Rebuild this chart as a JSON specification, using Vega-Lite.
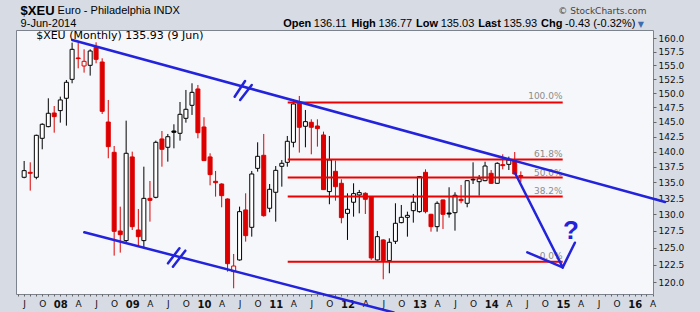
{
  "$schema": "https://vega.github.io/schema/vega-lite/v6.json",
  "width": 637,
  "height": 264,
  "autosize": {"type": "none"},
  "padding": {"left": 16, "top": 30, "right": 47, "bottom": 18},
  "background": "#d7dbe3",
  "config": {"view": {"fill": "#f5f7fb", "stroke": "#7d838c", "strokeWidth": 1}},
  "datasets": {
    "candles": [
      {"date":"2007-07-01","open":135.82,"high":138.46,"low":135.66,"close":136.89},
      {"date":"2007-08-01","open":136.62,"high":138.24,"low":133.70,"close":136.46},
      {"date":"2007-09-01","open":135.82,"high":142.82,"low":135.50,"close":142.71},
      {"date":"2007-10-01","open":142.21,"high":144.75,"low":140.38,"close":144.58},
      {"date":"2007-11-01","open":144.18,"high":149.08,"low":144.07,"close":146.47},
      {"date":"2007-12-01","open":146.52,"high":147.73,"low":143.16,"close":145.89},
      {"date":"2008-01-01","open":146.93,"high":149.37,"low":144.86,"close":148.79},
      {"date":"2008-02-01","open":149.08,"high":152.33,"low":144.35,"close":151.92},
      {"date":"2008-03-01","open":152.45,"high":159.19,"low":151.74,"close":157.94},
      {"date":"2008-04-01","open":156.34,"high":159.19,"low":154.44,"close":156.22},
      {"date":"2008-05-01","open":154.87,"high":157.94,"low":153.66,"close":155.72},
      {"date":"2008-06-01","open":154.99,"high":157.94,"low":153.12,"close":157.63},
      {"date":"2008-07-01","open":158.32,"high":159.25,"low":155.36,"close":156.09},
      {"date":"2008-08-01","open":155.60,"high":156.28,"low":146.35,"close":146.81},
      {"date":"2008-09-01","open":144.97,"high":148.79,"low":138.90,"close":140.82},
      {"date":"2008-10-01","open":139.88,"high":140.93,"low":123.84,"close":127.44},
      {"date":"2008-11-01","open":127.49,"high":131.20,"low":124.28,"close":126.94},
      {"date":"2008-12-01","open":126.05,"high":145.20,"low":125.65,"close":139.72},
      {"date":"2009-01-01","open":139.12,"high":139.99,"low":127.64,"close":128.14},
      {"date":"2009-02-01","open":127.64,"high":130.84,"low":125.25,"close":126.64},
      {"date":"2009-03-01","open":126.05,"high":137.53,"low":124.91,"close":132.49},
      {"date":"2009-04-01","open":132.49,"high":135.23,"low":128.90,"close":132.18},
      {"date":"2009-05-01","open":132.65,"high":141.82,"low":132.49,"close":141.54},
      {"date":"2009-06-01","open":142.10,"high":143.44,"low":137.53,"close":140.38},
      {"date":"2009-07-01","open":140.71,"high":142.94,"low":138.35,"close":142.48},
      {"date":"2009-08-01","open":143.44,"high":144.58,"low":140.54,"close":143.22},
      {"date":"2009-09-01","open":143.05,"high":148.43,"low":141.82,"close":146.29},
      {"date":"2009-10-01","open":145.60,"high":150.55,"low":144.86,"close":147.16},
      {"date":"2009-11-01","open":147.85,"high":151.74,"low":146.18,"close":150.13},
      {"date":"2009-12-01","open":150.73,"high":151.44,"low":142.21,"close":143.16},
      {"date":"2010-01-01","open":144.12,"high":145.78,"low":138.46,"close":138.52},
      {"date":"2010-02-01","open":139.12,"high":139.72,"low":134.54,"close":136.25},
      {"date":"2010-03-01","open":135.18,"high":136.84,"low":132.76,"close":134.96},
      {"date":"2010-04-01","open":134.75,"high":134.86,"low":131.10,"close":132.91},
      {"date":"2010-05-01","open":132.39,"high":132.49,"low":121.52,"close":122.67},
      {"date":"2010-06-01","open":121.52,"high":124.08,"low":119.16,"close":122.33},
      {"date":"2010-07-01","open":123.21,"high":131.20,"low":123.11,"close":130.43},
      {"date":"2010-08-01","open":130.69,"high":133.28,"low":125.90,"close":126.79},
      {"date":"2010-09-01","open":128.04,"high":136.84,"low":126.64,"close":136.35},
      {"date":"2010-10-01","open":137.26,"high":141.54,"low":136.73,"close":139.22},
      {"date":"2010-11-01","open":139.39,"high":142.94,"low":129.66,"close":129.81},
      {"date":"2010-12-01","open":130.95,"high":134.75,"low":130.33,"close":133.91},
      {"date":"2011-01-01","open":133.44,"high":137.64,"low":128.90,"close":136.94},
      {"date":"2011-02-01","open":137.59,"high":138.62,"low":134.33,"close":138.08},
      {"date":"2011-03-01","open":138.24,"high":142.60,"low":137.53,"close":141.71},
      {"date":"2011-04-01","open":141.54,"high":148.90,"low":140.71,"close":148.08},
      {"date":"2011-05-01","open":148.32,"high":149.49,"low":139.83,"close":144.07},
      {"date":"2011-06-01","open":144.24,"high":147.04,"low":140.71,"close":145.03},
      {"date":"2011-07-01","open":144.92,"high":145.43,"low":139.55,"close":144.07},
      {"date":"2011-08-01","open":144.29,"high":145.43,"low":140.82,"close":143.84},
      {"date":"2011-09-01","open":142.77,"high":143.33,"low":133.81,"close":133.86},
      {"date":"2011-10-01","open":133.55,"high":142.60,"low":131.57,"close":138.62},
      {"date":"2011-11-01","open":136.78,"high":138.52,"low":132.13,"close":134.33},
      {"date":"2011-12-01","open":134.86,"high":135.50,"low":128.65,"close":129.51},
      {"date":"2012-01-01","open":130.17,"high":133.28,"low":126.15,"close":130.79},
      {"date":"2012-02-01","open":131.88,"high":134.86,"low":129.66,"close":133.23},
      {"date":"2012-03-01","open":133.02,"high":133.81,"low":130.17,"close":133.39},
      {"date":"2012-04-01","open":133.28,"high":133.44,"low":130.07,"close":132.34},
      {"date":"2012-05-01","open":132.76,"high":132.81,"low":123.21,"close":123.50},
      {"date":"2012-06-01","open":123.21,"high":127.49,"low":123.11,"close":126.64},
      {"date":"2012-07-01","open":126.15,"high":126.25,"low":120.43,"close":123.11},
      {"date":"2012-08-01","open":123.11,"high":126.39,"low":121.29,"close":125.80},
      {"date":"2012-09-01","open":125.95,"high":131.72,"low":125.55,"close":128.65},
      {"date":"2012-10-01","open":128.75,"high":131.46,"low":128.65,"close":129.56},
      {"date":"2012-11-01","open":129.56,"high":130.43,"low":126.64,"close":129.86},
      {"date":"2012-12-01","open":130.58,"high":133.18,"low":128.75,"close":131.88},
      {"date":"2013-01-01","open":130.43,"high":136.03,"low":130.27,"close":135.93},
      {"date":"2013-02-01","open":136.62,"high":137.10,"low":130.17,"close":130.43},
      {"date":"2013-03-01","open":130.02,"high":130.10,"low":127.39,"close":128.14},
      {"date":"2013-04-01","open":128.14,"high":132.03,"low":127.39,"close":131.72},
      {"date":"2013-05-01","open":132.24,"high":132.30,"low":127.79,"close":130.02},
      {"date":"2013-06-01","open":130.22,"high":134.23,"low":129.51,"close":130.07},
      {"date":"2013-07-01","open":130.27,"high":133.44,"low":127.54,"close":132.97},
      {"date":"2013-08-01","open":132.34,"high":134.60,"low":131.72,"close":132.13},
      {"date":"2013-09-01","open":131.72,"high":135.33,"low":131.10,"close":135.28},
      {"date":"2013-10-01","open":135.40,"high":138.24,"low":134.75,"close":135.50},
      {"date":"2013-11-01","open":135.12,"high":136.19,"low":132.91,"close":135.58},
      {"date":"2013-12-01","open":135.28,"high":138.35,"low":135.20,"close":137.64},
      {"date":"2014-01-01","open":136.46,"high":136.99,"low":134.75,"close":134.86},
      {"date":"2014-02-01","open":134.86,"high":138.24,"low":134.80,"close":138.08},
      {"date":"2014-03-01","open":137.86,"high":139.55,"low":137.10,"close":137.70},
      {"date":"2014-04-01","open":137.91,"high":139.17,"low":136.99,"close":138.62},
      {"date":"2014-05-01","open":138.46,"high":139.93,"low":136.30,"close":136.35},
      {"date":"2014-06-01","open":136.11,"high":136.77,"low":135.03,"close":135.93}
    ],
    "lines": [
      {"kind":"fib","date":"2011-03-03","price":148.32,"date2":"2014-12-31","price2":148.32},
      {"kind":"fib","date":"2011-03-03","price":138.68,"date2":"2014-12-31","price2":138.68},
      {"kind":"fib","date":"2011-03-03","price":135.77,"date2":"2014-12-31","price2":135.77},
      {"kind":"fib","date":"2011-03-03","price":132.76,"date2":"2014-12-31","price2":132.76},
      {"kind":"fib","date":"2011-03-03","price":122.96,"date2":"2014-12-31","price2":122.96},
      {"kind":"trend","date":"2008-03-02","price":159.70,"date2":"2016-06-04","price2":131.92},
      {"kind":"trend","date":"2008-05-02","price":127.29,"date2":"2012-08-23","price2":115.81},
      {"kind":"trend","date":"2014-05-03","price":136.46,"date2":"2014-12-31","price2":122.14},
      {"kind":"trend","date":"2014-07-04","price":124.32,"date2":"2014-12-31","price2":122.14},
      {"kind":"trend","date":"2014-12-31","price":122.14,"date2":"2015-03-03","price2":125.74},
      {"kind":"trend","date":"2010-06-06","price":149.36,"date2":"2010-07-29","price2":152.15},
      {"kind":"trend","date":"2010-07-04","price":148.78,"date2":"2010-09-01","price2":151.43},
      {"kind":"trend","date":"2009-07-02","price":122.72,"date2":"2009-08-29","price2":124.91},
      {"kind":"trend","date":"2009-07-27","price":122.23,"date2":"2009-09-28","price2":124.56}
    ],
    "labels": [
      {"kind":"big","date":"2007-06-13","price":164.46,"text":"$XEU"},
      {"kind":"hdr","date":"2007-12-18","price":164.66,"text":"Euro - Philadelphia INDX"},
      {"kind":"hdr","date":"2007-06-13","price":162.21,"text":"9-Jun-2014"},
      {"kind":"hdrb","date":"2011-02-08","price":162.21,"text":"Open"},
      {"kind":"hdr","date":"2011-07-14","price":162.21,"text":"136.11"},
      {"kind":"hdrb","date":"2012-01-21","price":162.21,"text":"High"},
      {"kind":"hdr","date":"2012-06-07","price":162.21,"text":"136.77"},
      {"kind":"hdrb","date":"2012-12-15","price":162.21,"text":"Low"},
      {"kind":"hdr","date":"2013-04-19","price":162.21,"text":"135.03"},
      {"kind":"hdrb","date":"2013-10-27","price":162.21,"text":"Last"},
      {"kind":"hdr","date":"2014-03-05","price":162.21,"text":"135.93"},
      {"kind":"hdrb","date":"2014-09-12","price":162.21,"text":"Chg"},
      {"kind":"hdr","date":"2015-01-12","price":162.21,"text":"-0.43 (-0.32%)"},
      {"kind":"tri","date":"2016-01-17","price":162.21,"text":"▼"},
      {"kind":"copy","date":"2016-03-02","price":164.66,"text":"© StockCharts.com"},
      {"kind":"legend","date":"2007-08-31","price":159.87,"text":"$XEU (Monthly) 135.93 (9 Jun)"},
      {"kind":"fib","date":"2014-12-30","price":148.9,"text":"100.0%"},
      {"kind":"fib","date":"2014-12-30","price":139.16,"text":"61.8%"},
      {"kind":"fib","date":"2014-12-30","price":136.08,"text":"50.0%"},
      {"kind":"fib","date":"2014-12-30","price":133.12,"text":"38.2%"},
      {"kind":"fib","date":"2014-12-30","price":123.35,"text":"0.0%"},
      {"kind":"q","date":"2015-02-11","price":126.24,"text":"?"}
    ]
  },
  "layer": [
    {
      "data": {"name": "candles"},
      "transform": [{"window": [{"op": "lag", "field": "close", "as": "prev"}], "sort": [{"field": "date", "order": "ascending"}]}],
      "layer": [
        {
          "mark": {"type": "rule", "strokeWidth": 1},
          "encoding": {
            "x": {
              "field": "date", "type": "temporal", "title": null,
              "scale": {"type": "utc", "domain": [{"year": 2007, "month": 6, "date": 15, "utc": true}, {"year": 2016, "month": 3, "date": 9, "utc": true}], "nice": false},
              "axis": {
                "title": null, "orient": "bottom", "grid": false, "domain": false,
                "tickCount": {"interval": "month", "step": 1},
                "tickSize": 2, "tickColor": "#666666", "labelPadding": 3,
                "labelExpr": "utcmonth(datum.value) == 0 ? utcFormat(datum.value, '%y') : utcmonth(datum.value) == 3 ? 'A' : utcmonth(datum.value) == 6 ? 'J' : utcmonth(datum.value) == 9 ? 'O' : ''",
                "labelFont": "DejaVu Sans",
                "labelFontSize": {"condition": {"test": "utcmonth(datum.value) == 0", "value": 10}, "value": 9},
                "labelFontWeight": {"condition": {"test": "utcmonth(datum.value) == 0", "value": "bold"}, "value": "normal"},
                "labelColor": "#111111", "labelOverlap": false, "labelFlush": false, "labelBound": false
              }
            },
            "y": {
              "field": "low", "type": "quantitative", "title": null,
              "scale": {"type": "log", "domain": [118.36, 161.58], "nice": false},
              "axis": {
                "title": null, "orient": "right", "grid": false, "domain": false,
                "values": [120, 122.5, 125, 127.5, 130, 132.5, 135, 137.5, 140, 142.5, 145, 147.5, 150, 152.5, 155, 157.5, 160],
                "format": ".1f", "tickSize": 3, "tickColor": "#666666", "labelPadding": 2,
                "labelFont": "DejaVu Sans", "labelFontSize": 9, "labelColor": "#111111"
              }
            },
            "y2": {"field": "high"},
            "color": {"condition": {"test": "datum.prev != null && datum.close < datum.prev", "value": "#dd0000"}, "value": "#000000"}
          }
        },
        {
          "mark": {"type": "bar", "width": 4, "strokeWidth": 1},
          "encoding": {
            "x": {"field": "date", "type": "temporal", "title": null},
            "y": {"field": "open", "type": "quantitative", "title": null},
            "y2": {"field": "close"},
            "fill": {"condition": [{"test": "datum.close >= datum.open", "value": "#ffffff"}, {"test": "datum.prev != null && datum.close < datum.prev", "value": "#dd0000"}], "value": "#000000"},
            "stroke": {"condition": {"test": "datum.prev != null && datum.close < datum.prev", "value": "#dd0000"}, "value": "#000000"}
          }
        }
      ]
    },
    {
      "data": {"name": "lines"},
      "transform": [{"filter": "datum.kind == 'fib'"}],
      "mark": {"type": "rule", "color": "#ee0000", "strokeWidth": 2},
      "encoding": {
        "x": {"field": "date", "type": "temporal", "title": null},
        "x2": {"field": "date2"},
        "y": {"field": "price", "type": "quantitative", "title": null},
        "y2": {"field": "price2"}
      }
    },
    {
      "data": {"name": "labels"},
      "transform": [{"filter": "datum.kind == 'fib'"}],
      "mark": {"type": "text", "align": "right", "baseline": "alphabetic", "font": "DejaVu Sans", "fontSize": 9, "color": "#8c8c8c"},
      "encoding": {
        "x": {"field": "date", "type": "temporal", "title": null},
        "y": {"field": "price", "type": "quantitative", "title": null},
        "text": {"field": "text"}
      }
    },
    {
      "data": {"name": "lines"},
      "transform": [{"filter": "datum.kind == 'trend'"}],
      "mark": {"type": "rule", "color": "#2323dc", "strokeWidth": 2.5, "strokeCap": "round"},
      "encoding": {
        "x": {"field": "date", "type": "temporal", "title": null},
        "x2": {"field": "date2"},
        "y": {"field": "price", "type": "quantitative", "title": null},
        "y2": {"field": "price2"}
      }
    },
    {
      "data": {"name": "labels"},
      "transform": [{"filter": "datum.kind == 'q'"}],
      "mark": {"type": "text", "align": "center", "baseline": "alphabetic", "font": "Liberation Sans", "fontSize": 26, "fontWeight": "bold", "color": "#2323dc"},
      "encoding": {
        "x": {"field": "date", "type": "temporal", "title": null},
        "y": {"field": "price", "type": "quantitative", "title": null},
        "text": {"field": "text"}
      }
    },
    {
      "data": {"name": "labels"},
      "transform": [{"filter": "datum.kind == 'legend'"}],
      "mark": {"type": "text", "align": "left", "baseline": "alphabetic", "font": "DejaVu Sans", "fontSize": 11, "color": "#000000"},
      "encoding": {
        "x": {"field": "date", "type": "temporal", "title": null},
        "y": {"field": "price", "type": "quantitative", "title": null},
        "text": {"field": "text"}
      }
    },
    {
      "data": {"name": "labels"},
      "transform": [{"filter": "datum.kind == 'big'"}],
      "mark": {"type": "text", "align": "left", "baseline": "alphabetic", "font": "Liberation Sans", "fontSize": 13, "fontWeight": "bold", "color": "#000000"},
      "encoding": {
        "x": {"field": "date", "type": "temporal", "title": null},
        "y": {"field": "price", "type": "quantitative", "title": null},
        "text": {"field": "text"}
      }
    },
    {
      "data": {"name": "labels"},
      "transform": [{"filter": "datum.kind == 'hdr'"}],
      "mark": {"type": "text", "align": "left", "baseline": "alphabetic", "font": "Liberation Sans", "fontSize": 11, "color": "#000000"},
      "encoding": {
        "x": {"field": "date", "type": "temporal", "title": null},
        "y": {"field": "price", "type": "quantitative", "title": null},
        "text": {"field": "text"}
      }
    },
    {
      "data": {"name": "labels"},
      "transform": [{"filter": "datum.kind == 'hdrb'"}],
      "mark": {"type": "text", "align": "left", "baseline": "alphabetic", "font": "Liberation Sans", "fontSize": 11, "fontWeight": "bold", "color": "#000000"},
      "encoding": {
        "x": {"field": "date", "type": "temporal", "title": null},
        "y": {"field": "price", "type": "quantitative", "title": null},
        "text": {"field": "text"}
      }
    },
    {
      "data": {"name": "labels"},
      "transform": [{"filter": "datum.kind == 'tri'"}],
      "mark": {"type": "text", "align": "left", "baseline": "alphabetic", "font": "DejaVu Sans", "fontSize": 8, "color": "#3c6db0"},
      "encoding": {
        "x": {"field": "date", "type": "temporal", "title": null},
        "y": {"field": "price", "type": "quantitative", "title": null},
        "text": {"field": "text"}
      }
    },
    {
      "data": {"name": "labels"},
      "transform": [{"filter": "datum.kind == 'copy'"}],
      "mark": {"type": "text", "align": "right", "baseline": "alphabetic", "font": "DejaVu Sans", "fontSize": 9, "color": "#444444"},
      "encoding": {
        "x": {"field": "date", "type": "temporal", "title": null},
        "y": {"field": "price", "type": "quantitative", "title": null},
        "text": {"field": "text"}
      }
    }
  ]
}
